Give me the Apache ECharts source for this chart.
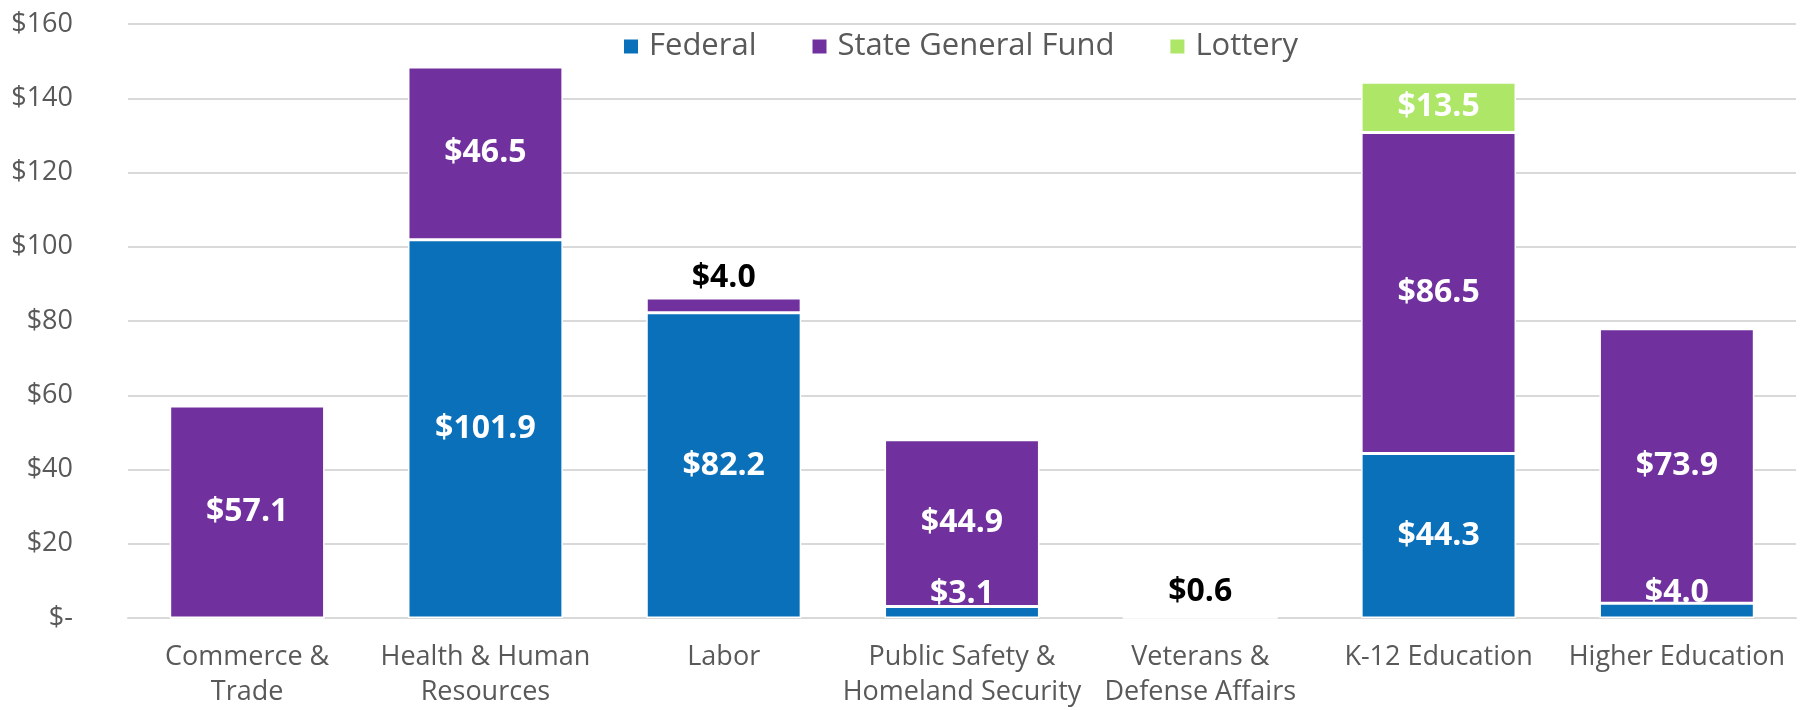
<!DOCTYPE html>
<html>
<head>
<meta charset="utf-8">
<script src="https://cdn.jsdelivr.net/npm/echarts@6/dist/echarts.min.js"></script>
<style>
html,body{margin:0;padding:0;background:#fff;}
#chart{width:1800px;height:710px;}
</style>
</head>
<body>
<div id="chart"></div>
<script>
const categories = ["Commerce &\nTrade", "Health & Human\nResources", "Labor", "Public Safety &\nHomeland Security", "Veterans &\nDefense Affairs", "K-12 Education", "Higher Education"];
const federal = [0, 101.9, 82.2, 3.1, 0, 44.3, 4.0];
const stateGeneralFund = [57.1, 46.5, 4.0, 44.9, 0.6, 86.5, 73.9];
const lottery = [0, 0, 0, 0, 0, 13.5, 0];
const yTicks = [0, 20, 40, 60, 80, 100, 120, 140, 160];

const FONT = '"Open Sans", "Noto Sans", sans-serif';
const fmt = p => (p.value ? '$' + Number(p.value).toFixed(1) : '');

// label tweaks: small segments get labels outside (black on top) or nudged up
const outsideTop = { sgf: { 2: 4, 4: 8 } };
const nudged = { fed: [3, 6] };

function build(values, key) {
  return values.map((v, i) => {
    const item = { value: v };
    if (outsideTop[key] && outsideTop[key][i] !== undefined) {
      item.label = { position: 'top', color: '#000', distance: outsideTop[key][i] };
    }
    if (nudged[key] && nudged[key].includes(i)) {
      item.label = { offset: [0, -18] };
    }
    return item;
  });
}

const labelBase = {
  show: true, position: 'inside', color: '#fff', fontFamily: FONT,
  fontWeight: 'bold', fontSize: 32, formatter: fmt
};
const itemBase = c => ({ color: c, borderColor: '#fff', borderWidth: 1.5 });

const chart = echarts.init(document.getElementById('chart'));
chart.setOption({
  animation: false,
  grid: { left: 128, right: 4, top: 24, bottom: 90, containLabel: false },
  legend: {
    left: 617, top: 26, icon: 'rect', itemWidth: 16, itemHeight: 16, itemGap: 54,
    textStyle: { fontFamily: FONT, fontSize: 31, color: '#595959', padding: [0, 0, 0, 5] },
    data: ['Federal', 'State General Fund', 'Lottery']
  },
  xAxis: {
    type: 'category', data: categories,
    axisLine: { show: true, lineStyle: { color: '#D9D9D9', width: 2 } },
    axisTick: { show: false },
    axisLabel: { fontFamily: FONT, fontSize: 27, color: '#595959', lineHeight: 35, margin: 22, interval: 0 }
  },
  yAxis: {
    type: 'value', min: 0, max: yTicks[yTicks.length - 1], interval: yTicks[1] - yTicks[0],
    axisLine: { show: false }, axisTick: { show: false },
    splitLine: { lineStyle: { color: '#D9D9D9', width: 2 } },
    axisLabel: { fontFamily: FONT, fontSize: 27, color: '#595959', margin: 55,
      formatter: v => (v === 0 ? '$-' : '$' + v) }
  },
  series: [
    { name: 'Federal', type: 'bar', stack: 't', barWidth: '65%', data: build(federal, 'fed'),
      itemStyle: itemBase('#0B70BA'), label: labelBase },
    { name: 'State General Fund', type: 'bar', stack: 't', barWidth: '65%', data: build(stateGeneralFund, 'sgf'),
      itemStyle: itemBase('#70309E'), label: labelBase },
    { name: 'Lottery', type: 'bar', stack: 't', barWidth: '65%', data: build(lottery, 'lot'),
      itemStyle: itemBase('#AEE668'), label: labelBase }
  ]
});
</script>
</body>
</html>
